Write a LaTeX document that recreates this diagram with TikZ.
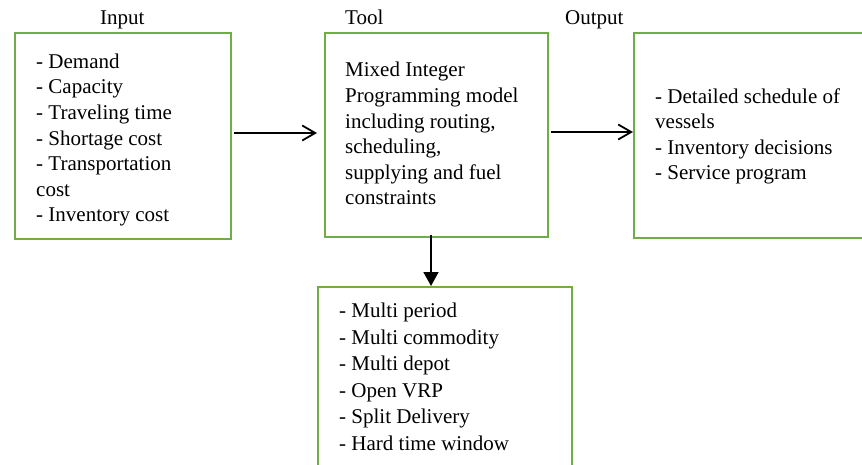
\documentclass[tikz,border=0pt]{standalone}
\usepackage{fontspec}
\setmainfont{Liberation Serif}
\usetikzlibrary{arrows.meta}
\definecolor{boxgreen}{HTML}{70AD47}
\tikzset{
  greenbox/.style={draw=boxgreen, line width=2pt, rectangle, inner sep=0pt, anchor=north west},
  boxtext/.style={align=left, anchor=base west, inner sep=0pt, font=\fontsize{21}{25.6}\selectfont},
  headlabel/.style={anchor=base west, inner sep=0pt, font=\fontsize{21}{25}\selectfont},
  openarrow/.style={line width=1.8pt, -{Straight Barb[length=13pt, width=15pt, line width=1.8pt]}},
  solidarrow/.style={line width=1.8pt, -{Triangle[length=14pt, width=15pt]}}
}
\begin{document}
\begin{tikzpicture}[x=1pt, y=-1pt]
\clip (0,0) rectangle (862,465);
\fill[white] (0,0) rectangle (862,465);
% labels
\node[headlabel] (linput) at (100,25) {Input};
\node[headlabel] (ltool) at (345,25) {Tool};
\node[headlabel] (loutput) at (565,25) {Output};
% boxes
\node[greenbox, minimum width=216pt, minimum height=206pt] (input) at (14,32) {};
\node[greenbox, minimum width=223pt, minimum height=204pt] (tool) at (324,32) {};
\node[greenbox, minimum width=260pt, minimum height=205pt] (output) at (633,32) {};
\node[greenbox, minimum width=254pt, minimum height=200pt] (cons) at (317,286) {};
% texts (anchor at the baseline of the last line)
\node[boxtext] (tinput) at (36,222) {- Demand\\- Capacity\\- Traveling time\\- Shortage cost\\- Transportation\\cost\\- Inventory cost};
\node[boxtext] (ttool) at (345,205) {Mixed Integer\\Programming model\\including routing,\\scheduling,\\supplying and fuel\\constraints};
\node[boxtext] (toutput) at (655,180) {- Detailed schedule of\\vessels\\- Inventory decisions\\- Service program};
\node[boxtext, font=\fontsize{21}{26.5}\selectfont] (tcons) at (339,450) {- Multi period\\- Multi commodity\\- Multi depot\\- Open VRP\\- Split Delivery\\- Hard time window};
% connectors
\draw[openarrow] ([shift={(2pt,3pt)}]input.east) -- ([shift={(-7pt,2pt)}]tool.west);
\draw[openarrow] ([shift={(2pt,3pt)}]tool.east) -- ([shift={(0pt,3.5pt)}]output.west);
\draw[solidarrow] ([xshift=-5.5pt,yshift=3pt]tool.south) -- ([xshift=-14pt]cons.north);
\end{tikzpicture}
\end{document}
